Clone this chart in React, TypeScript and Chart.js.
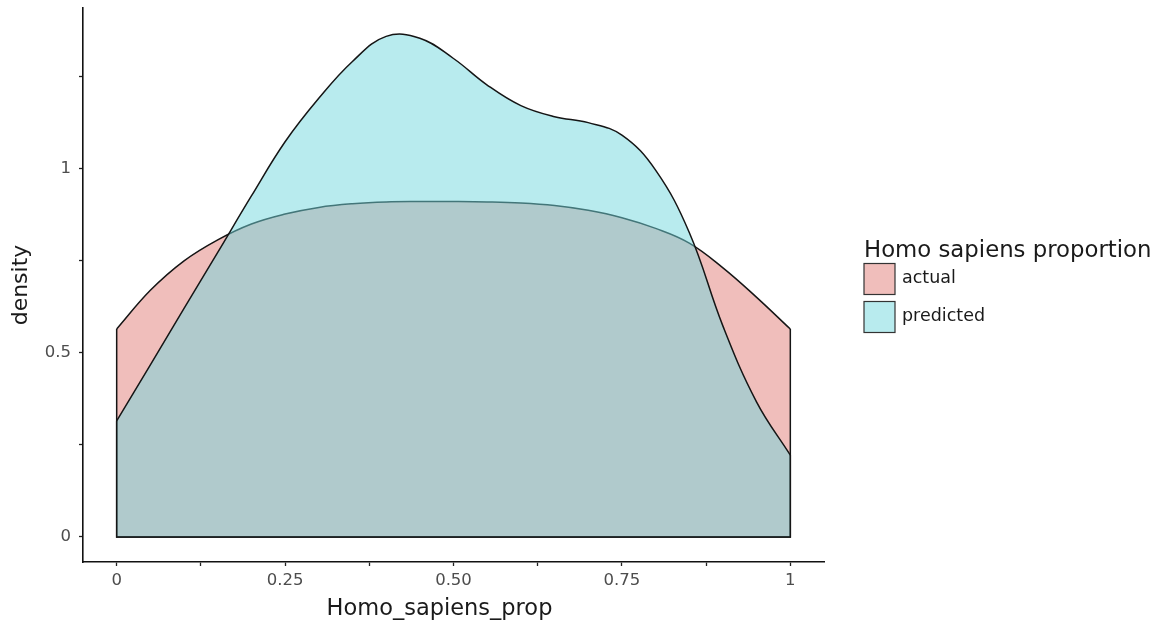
import React, { useEffect, useRef } from "react";
import { Chart, registerables } from "chart.js";

Chart.register(...registerables);

// ---- data ----
const xGrid = [0, 0.05, 0.1, 0.15, 0.2, 0.25, 0.3, 0.35, 0.4, 0.45, 0.5, 0.55, 0.6, 0.65, 0.7, 0.75, 0.8, 0.85, 0.9, 0.95, 1];
const actualDensity = [0.564, 0.669, 0.749, 0.806, 0.849, 0.876, 0.894, 0.904, 0.909, 0.91, 0.91, 0.909, 0.906, 0.899, 0.886, 0.866, 0.837, 0.797, 0.73, 0.65, 0.564];
const predictedDensity = [0.315, 0.467, 0.62, 0.772, 0.925, 1.072, 1.19, 1.29, 1.358, 1.353, 1.298, 1.226, 1.17, 1.14, 1.124, 1.09, 0.995, 0.826, 0.572, 0.366, 0.222];
const seriesNames = ["actual", "predicted"];
const seriesFills = ["rgba(225,125,119,0.5)", "rgba(113,215,221,0.5)"];
const xTicks = [0, 0.125, 0.25, 0.375, 0.5, 0.625, 0.75, 0.875, 1];
const xTickLabels = ["0", "", "0.25", "", "0.50", "", "0.75", "", "1"];
const yTicks = [0, 0.25, 0.5, 0.75, 1, 1.25];
const yTickLabels = ["0", "", "0.5", "", "1", ""];
const xTitle = "Homo_sapiens_prop";
const yTitle = "density";
const legendTitle = "Homo sapiens proportion";

const FONT = "'DejaVu Sans', sans-serif";
const LINE = "#151515";

function curveDataset(name: string, vals: number[], fill: string, order: number) {
  return {
    label: name,
    data: xGrid.map((x, i) => ({ x, y: vals[i] })),
    borderColor: LINE,
    borderWidth: 1.5,
    backgroundColor: fill,
    fill: "origin",
    pointRadius: 0,
    tension: 0.4,
    order,
  };
}

function edgeDataset(vals: number[], order: number) {
  const last = xGrid.length - 1;
  return {
    label: "",
    data: [
      { x: xGrid[0], y: vals[0] },
      { x: xGrid[0], y: 0 },
      { x: xGrid[last], y: 0 },
      { x: xGrid[last], y: vals[last] },
    ],
    borderColor: LINE,
    borderWidth: 1.5,
    backgroundColor: "transparent",
    fill: false,
    pointRadius: 0,
    tension: 0,
    order,
  };
}

const textPlugin = {
  id: "ggText",
  afterDraw(chart: any) {
    const ctx = chart.ctx;
    ctx.save();
    // x-axis title
    ctx.fillStyle = "#1a1a1a";
    ctx.font = `22.5px ${FONT}`;
    ctx.textAlign = "center";
    ctx.textBaseline = "alphabetic";
    ctx.fillText(xTitle, 439.5, 615);
    // legend
    ctx.textAlign = "left";
    ctx.font = `22.8px ${FONT}`;
    ctx.fillText(legendTitle, 864, 257);
    const boxX = 864;
    const boxY0 = 263.5;
    const boxSize = 31;
    const gap = 7;
    seriesNames.forEach((name, i) => {
      const y = boxY0 + i * (boxSize + gap);
      ctx.fillStyle = "#ffffff";
      ctx.fillRect(boxX, y, boxSize, boxSize);
      ctx.fillStyle = seriesFills[i];
      ctx.fillRect(boxX, y, boxSize, boxSize);
      ctx.strokeStyle = "#333333";
      ctx.lineWidth = 1.2;
      ctx.strokeRect(boxX, y, boxSize, boxSize);
      ctx.fillStyle = "#1a1a1a";
      ctx.font = `17.5px ${FONT}`;
      ctx.textBaseline = "middle";
      ctx.fillText(name, 902, y + boxSize / 2 - 1);
    });
    ctx.restore();
  },
};

export default function App() {
  const canvasRef = useRef<HTMLCanvasElement | null>(null);

  useEffect(() => {
    if (!canvasRef.current) return;
    const chart = new Chart(canvasRef.current, {
      type: "line",
      data: {
        datasets: [
          curveDataset(seriesNames[1], predictedDensity, seriesFills[1], 2) as any,
          edgeDataset(predictedDensity, 1) as any,
          curveDataset(seriesNames[0], actualDensity, seriesFills[0], 4) as any,
          edgeDataset(actualDensity, 3) as any,
        ],
      },
      options: {
        animation: false,
        responsive: false,
        devicePixelRatio: 1,
        events: [],
        layout: { padding: { left: 0, right: 335, top: 8, bottom: 0 } },
        plugins: {
          legend: { display: false },
          tooltip: { enabled: false },
          filler: { propagate: false },
        },
        scales: {
          x: {
            type: "linear",
            min: -0.05,
            max: 1.05,
            afterFit: (s: any) => {
              s.height = 63;
              s.paddingLeft = 0;
              s.paddingRight = 0;
            },
            afterBuildTicks: (s: any) => {
              s.ticks = xTicks.map((v) => ({ value: v }));
            },
            ticks: {
              autoSkip: false,
              maxRotation: 0,
              padding: 5,
              color: "#4d4d4d",
              font: { family: FONT, size: 16.5 },
              callback: (_v: any, i: number) => xTickLabels[i],
            },
            grid: {
              display: true,
              drawOnChartArea: false,
              drawTicks: true,
              tickLength: 4,
              tickColor: "#222",
              tickWidth: 1.3,
            },
            border: { display: true, color: "#111", width: 1.6 },
            title: { display: false },
          },
          y: {
            type: "linear",
            min: -0.068,
            max: 1.435,
            afterFit: (s: any) => {
              s.width = 83;
              s.paddingTop = 0;
              s.paddingBottom = 0;
            },
            afterBuildTicks: (s: any) => {
              s.ticks = yTicks.map((v) => ({ value: v }));
            },
            ticks: {
              autoSkip: false,
              padding: 8,
              color: "#4d4d4d",
              font: { family: FONT, size: 16.5 },
              callback: (_v: any, i: number) => yTickLabels[i],
            },
            grid: {
              display: true,
              drawOnChartArea: false,
              drawTicks: true,
              tickLength: 4,
              tickColor: "#222",
              tickWidth: 1.3,
            },
            border: { display: true, color: "#111", width: 1.6 },
            title: {
              display: true,
              text: yTitle,
              color: "#1a1a1a",
              font: { family: FONT, size: 22 },
              padding: { top: 8, bottom: 0 },
            },
          },
        },
      },
      plugins: [textPlugin],
    });
    return () => chart.destroy();
  }, []);

  return (
    <div style={{ position: "absolute", left: 0, top: 0, width: 1159, height: 625, background: "#fff" }}>
      <canvas ref={canvasRef} width={1159} height={625} />
    </div>
  );
}
